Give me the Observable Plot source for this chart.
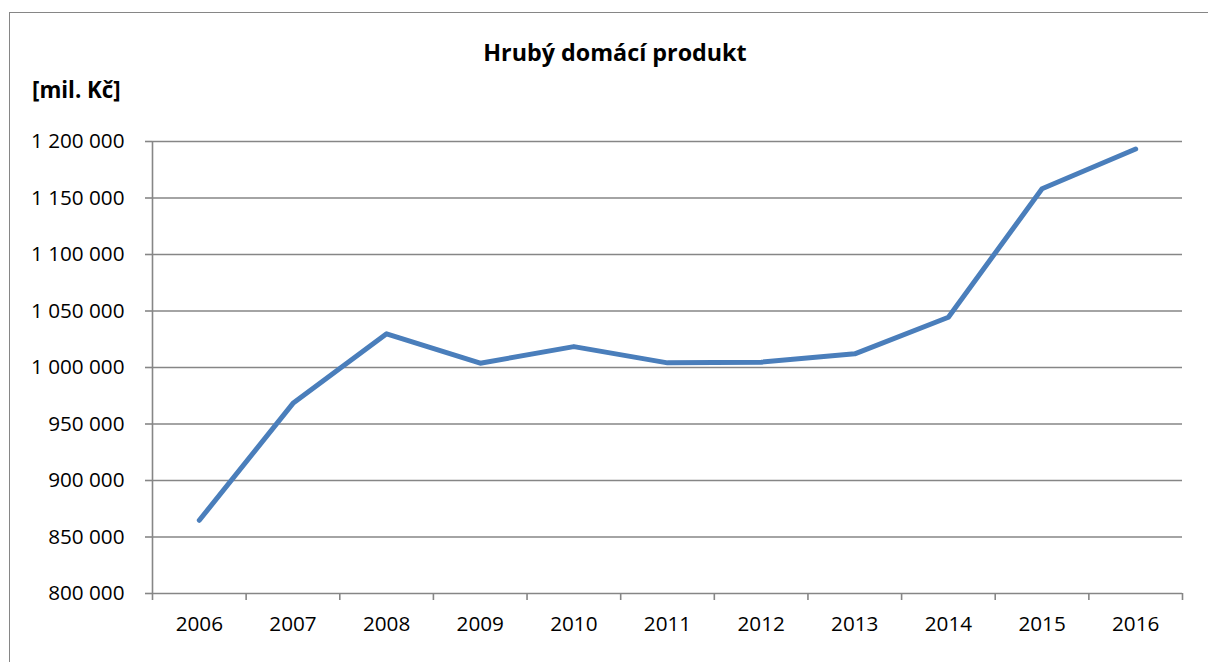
<!DOCTYPE html>
<html>
<head>
<meta charset="utf-8">
<script src="https://cdn.jsdelivr.net/npm/d3@7"></script>
<script src="https://cdn.jsdelivr.net/npm/@observablehq/plot@0.6"></script>
<style>
  html, body { margin: 0; padding: 0; background: #fff; }
  #wrap { position: relative; width: 1208px; height: 662px; overflow: hidden; font-family: "Open Sans", sans-serif; }
  #border { position: absolute; left: 9px; top: 12px; width: 1300px; height: 700px; border: 1.5px solid #868686; box-sizing: border-box; }
  #title { position: absolute; left: 0; width: 1230px; top: 35px; text-align: center; font-weight: bold; font-size: 23.3px; color: #000; line-height: 34px; }
  #unit { position: absolute; left: 32px; top: 73px; font-weight: bold; font-size: 22.3px; color: #000; line-height: 34px; }
  #chart { position: absolute; left: 0; top: 110px; }
</style>
</head>
<body>
<div id="wrap">
  <div id="border"></div>
  <div id="title">Hrubý domácí produkt</div>
  <div id="unit">[mil. Kč]</div>
  <div id="chart"></div>
</div>
<script>
const years = [2006, 2007, 2008, 2009, 2010, 2011, 2012, 2013, 2014, 2015, 2016];
const gdp = [864800, 968300, 1029800, 1003800, 1018500, 1004100, 1004700, 1012100, 1044500, 1158200, 1193300];
const yTicks = [800000, 850000, 900000, 950000, 1000000, 1050000, 1100000, 1150000, 1200000];

const data = years.map((y, i) => ({year: y, value: gdp[i]}));
const boundaries = [...years.map(y => y - 0.5), years[years.length - 1] + 0.5];
const fmt = d3.formatLocale({decimal: ",", thousands: "\u00a0", grouping: [3]}).format(",d");
const grid = "#868686";

const plot = Plot.plot({
  width: 1208,
  height: 552,
  marginLeft: 152,
  marginRight: 26,
  marginTop: 31,
  marginBottom: 69,
  style: {fontFamily: "'Open Sans', sans-serif", fontSize: "20.7px", color: "#000", background: "transparent"},
  x: {type: "linear", domain: [boundaries[0], boundaries[boundaries.length - 1]]},
  y: {domain: [yTicks[0], yTicks[yTicks.length - 1]]},
  marks: [
    Plot.ruleY(yTicks, {stroke: grid, strokeWidth: 1.6}),
    Plot.ruleX([boundaries[0]], {stroke: grid, strokeWidth: 1.6}),
    Plot.axisY({ticks: yTicks, tickFormat: fmt, tickSize: 7, tickPadding: 21, stroke: grid, strokeWidth: 1.6, strokeOpacity: 1, label: null}),
    Plot.axisX({ticks: boundaries, tickFormat: () => "", tickSize: 7, stroke: grid, strokeWidth: 1.6, strokeOpacity: 1, label: null}),
    Plot.axisX({ticks: years, tickFormat: d => String(d), tickSize: 0, tickPadding: 23, label: null}),
    Plot.line(data, {x: "year", y: "value", stroke: "#4a7ebb", strokeWidth: 5, strokeLinecap: "round", strokeLinejoin: "round"})
  ]
});
document.getElementById("chart").appendChild(plot);
</script>
</body>
</html>
